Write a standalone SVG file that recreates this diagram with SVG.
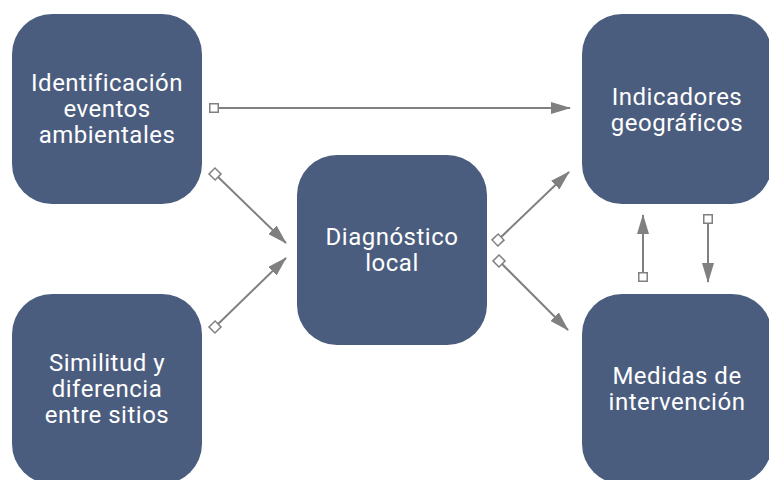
<svg xmlns="http://www.w3.org/2000/svg" width="769" height="480" viewBox="0 0 769 480">
<style>
.node rect{fill:#4b5d7e}
.node text{fill:#ffffff;font-family:Roboto,"DejaVu Sans",sans-serif;font-size:24px;text-anchor:middle;letter-spacing:0.5px}
.conn line{stroke:#808080;stroke-width:2;fill:none;marker-start:url(#sq);marker-end:url(#arr)}
</style>
<defs>
<marker id="arr" markerUnits="userSpaceOnUse" markerWidth="20" markerHeight="12" refX="19" refY="6" orient="auto" viewBox="0 0 20 12">
<path d="M0,0 L20,6 L0,12 Z" fill="#808080"/>
</marker>
<marker id="sq" markerUnits="userSpaceOnUse" markerWidth="12" markerHeight="12" refX="6" refY="6" orient="auto" viewBox="0 0 12 12">
<rect x="1.75" y="1.75" width="8.5" height="8.5" fill="#ffffff" stroke="#808080" stroke-width="1.5"/>
</marker>
</defs>
<g id="n1" class="node"><rect x="12" y="14" width="190" height="190" rx="40"/>
<text x="107" y="91">Identificación</text><text x="107" y="117">eventos</text><text x="107" y="143">ambientales</text></g>
<g id="n2" class="node"><rect x="12" y="294" width="190" height="190" rx="40"/>
<text x="107" y="371">Similitud y</text><text x="107" y="397">diferencia</text><text x="107" y="423">entre sitios</text></g>
<g id="n3" class="node"><rect x="297" y="155" width="190" height="190" rx="40"/>
<text x="392" y="245">Diagnóstico</text><text x="392" y="271">local</text></g>
<g id="n4" class="node"><rect x="582" y="14" width="190" height="190" rx="40"/>
<text x="677" y="105">Indicadores</text><text x="677" y="131">geográficos</text></g>
<g id="n5" class="node"><rect x="582" y="294" width="190" height="190" rx="40"/>
<text x="677" y="384">Medidas de</text><text x="677" y="410">intervención</text></g>
<g id="connectors" class="conn">
<line x1="214" y1="108" x2="570" y2="108"/>
<line x1="215" y1="174" x2="286" y2="243"/>
<line x1="215" y1="327" x2="286" y2="258"/>
<line x1="498" y1="240" x2="569" y2="172"/>
<line x1="499" y1="261" x2="568" y2="330"/>
<line x1="643" y1="277" x2="643" y2="215"/>
<line x1="708" y1="219" x2="708" y2="282"/>
</g>
</svg>
